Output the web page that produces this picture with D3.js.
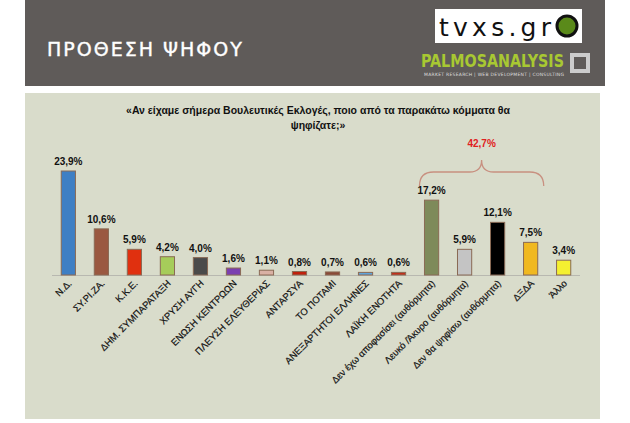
<!DOCTYPE html><html><head><meta charset="utf-8">
<script src="https://cdn.jsdelivr.net/npm/d3@7"></script>
<style>body{margin:0;background:#fff}svg{display:block}</style></head><body>
<script>
const categories=["Ν.Δ.","ΣΥ.ΡΙ.ΖΑ.","Κ.Κ.Ε.","ΔΗΜ. ΣΥΜΠΑΡΑΤΑΞΗ","ΧΡΥΣΗ ΑΥΓΗ","ΕΝΩΣΗ ΚΕΝΤΡΩΩΝ","ΠΛΕΥΣΗ ΕΛΕΥΘΕΡΙΑΣ","ΑΝΤΑΡΣΥΑ","ΤΟ ΠΟΤΑΜΙ","ΑΝΕΞΑΡΤΗΤΟΙ ΕΛΛΗΝΕΣ","ΛΑΪΚΗ ΕΝΟΤΗΤΑ","Δεν έχω αποφασίσει (αυθόρμητα)","Λευκό /Άκυρο (αυθόρμητα)","Δεν θα ψηφίσω (αυθόρμητα)","ΔΞΔΑ","Άλλο"];
const values=[23.9,10.6,5.9,4.2,4.0,1.6,1.1,0.8,0.7,0.6,0.6,17.2,5.9,12.1,7.5,3.4];
const colors=["#3f7fc4","#9a5840","#e0300f","#a6cc5a","#4a4a4a","#7b3fb0","#d9b0a4","#c0200c","#8a4a38","#5ea4dc","#c0301c","#7e8a5a","#c4c4c4","#000000","#f0b820","#f4f030"];
const bracketTotal="42,7%";
const W=630,H=423;
const svg=d3.select("body").append("svg").attr("width",W).attr("height",H);
svg.append("rect").attr("x",25).attr("y",0).attr("width",580).attr("height",86).attr("fill","#5f5b59");
svg.append("text").attr("x",47).attr("y",56).attr("fill","#fff").attr("font-family","DejaVu Sans").attr("font-size",19).attr("letter-spacing",2).attr("stroke","#fff").attr("stroke-width",0.4).text("ΠΡΟΘΕΣΗ ΨΗΦΟΥ");
svg.append("rect").attr("x",435).attr("y",9).attr("width",147).attr("height",34).attr("fill","#fff");
svg.append("text").attr("x",439).attr("y",36).attr("font-family","DejaVu Sans").attr("font-size",25).attr("fill","#111").attr("textLength",112).text("tvxs.gr");
svg.append("circle").attr("cx",567).attr("cy",26).attr("r",10).attr("fill","#5a8a1a").attr("stroke","#111").attr("stroke-width",3);
svg.append("text").attr("x",421).attr("y",67).attr("font-family","DejaVu Sans Condensed").attr("font-weight","bold").attr("font-size",17).attr("fill","#a8c832").attr("textLength",143).attr("lengthAdjust","spacingAndGlyphs").text("PALMOSANALYSIS");
svg.append("text").attr("x",424).attr("y",76).attr("font-family","DejaVu Sans").attr("font-size",4.5).attr("fill","#ddd").attr("textLength",140).text("MARKET RESEARCH | WEB DEVELOPMENT | CONSULTING");
svg.append("rect").attr("x",572).attr("y",55).attr("width",16).attr("height",16).attr("fill","none").attr("stroke","#ccc").attr("stroke-width",4);
svg.append("rect").attr("x",25).attr("y",93).attr("width",575).attr("height",326).attr("fill","#d9dccb");
const t=svg.append("text").attr("text-anchor","middle").attr("font-family","Liberation Sans").attr("font-weight","bold").attr("font-size",10.5).attr("fill","#111");
t.append("tspan").attr("x",318).attr("y",114).text("«Αν είχαμε σήμερα Βουλευτικές Εκλογές, ποιο από τα παρακάτω κόμματα θα");
t.append("tspan").attr("x",318).attr("y",129).text("ψηφίζατε;»");
const x=d3.scaleBand().domain(categories).range([52,580]).paddingInner(0.57).paddingOuter(0.28);
const y=d3.scaleLinear().domain([0,23.9]).range([275,171]);
svg.append("line").attr("x1",52).attr("x2",580).attr("y1",275.5).attr("y2",275.5).attr("stroke","#b8b8b0");
const g=svg.selectAll("g.b").data(values).join("g");
g.append("rect").attr("x",(d,i)=>x(categories[i])).attr("y",d=>y(d)).attr("width",x.bandwidth()).attr("height",d=>275-y(d)).attr("fill",(d,i)=>colors[i]).attr("stroke","#8a6a55").attr("stroke-width",1);
g.append("text").attr("x",(d,i)=>x(categories[i])+x.bandwidth()/2).attr("y",d=>y(d)-6).attr("text-anchor","middle").attr("font-family","Liberation Sans").attr("font-weight","bold").attr("font-size",10).attr("fill","#111").text(d=>d.toFixed(1).replace(".",",")+"%");
categories.forEach((c,i)=>{const cx=x(c)+x.bandwidth()/2+4;
svg.append("text").attr("transform",`translate(${cx},284) rotate(-45)`).attr("text-anchor","end").attr("font-family","Liberation Sans").attr("font-size",9.5).attr("fill","#111").attr("stroke","#111").attr("stroke-width",0.2).text(c);});
const bx0=x(categories[11])-5,bx1=x(categories[14])+x.bandwidth()+6,bm=(bx0+bx1)/2;
svg.append("path").attr("d",`M${bx0},186 Q${bx0},172 ${bx0+14},172 L${bm-12},172 Q${bm},172 ${bm},160 Q${bm},172 ${bm+12},172 L${bx1-14},172 Q${bx1},172 ${bx1},186`).attr("fill","none").attr("stroke","#c89080").attr("stroke-width",1.3);
svg.append("text").attr("x",bm).attr("y",147).attr("text-anchor","middle").attr("font-family","Liberation Sans").attr("font-weight","bold").attr("font-size",10).attr("fill","#e02020").text(bracketTotal);
</script></body></html>
